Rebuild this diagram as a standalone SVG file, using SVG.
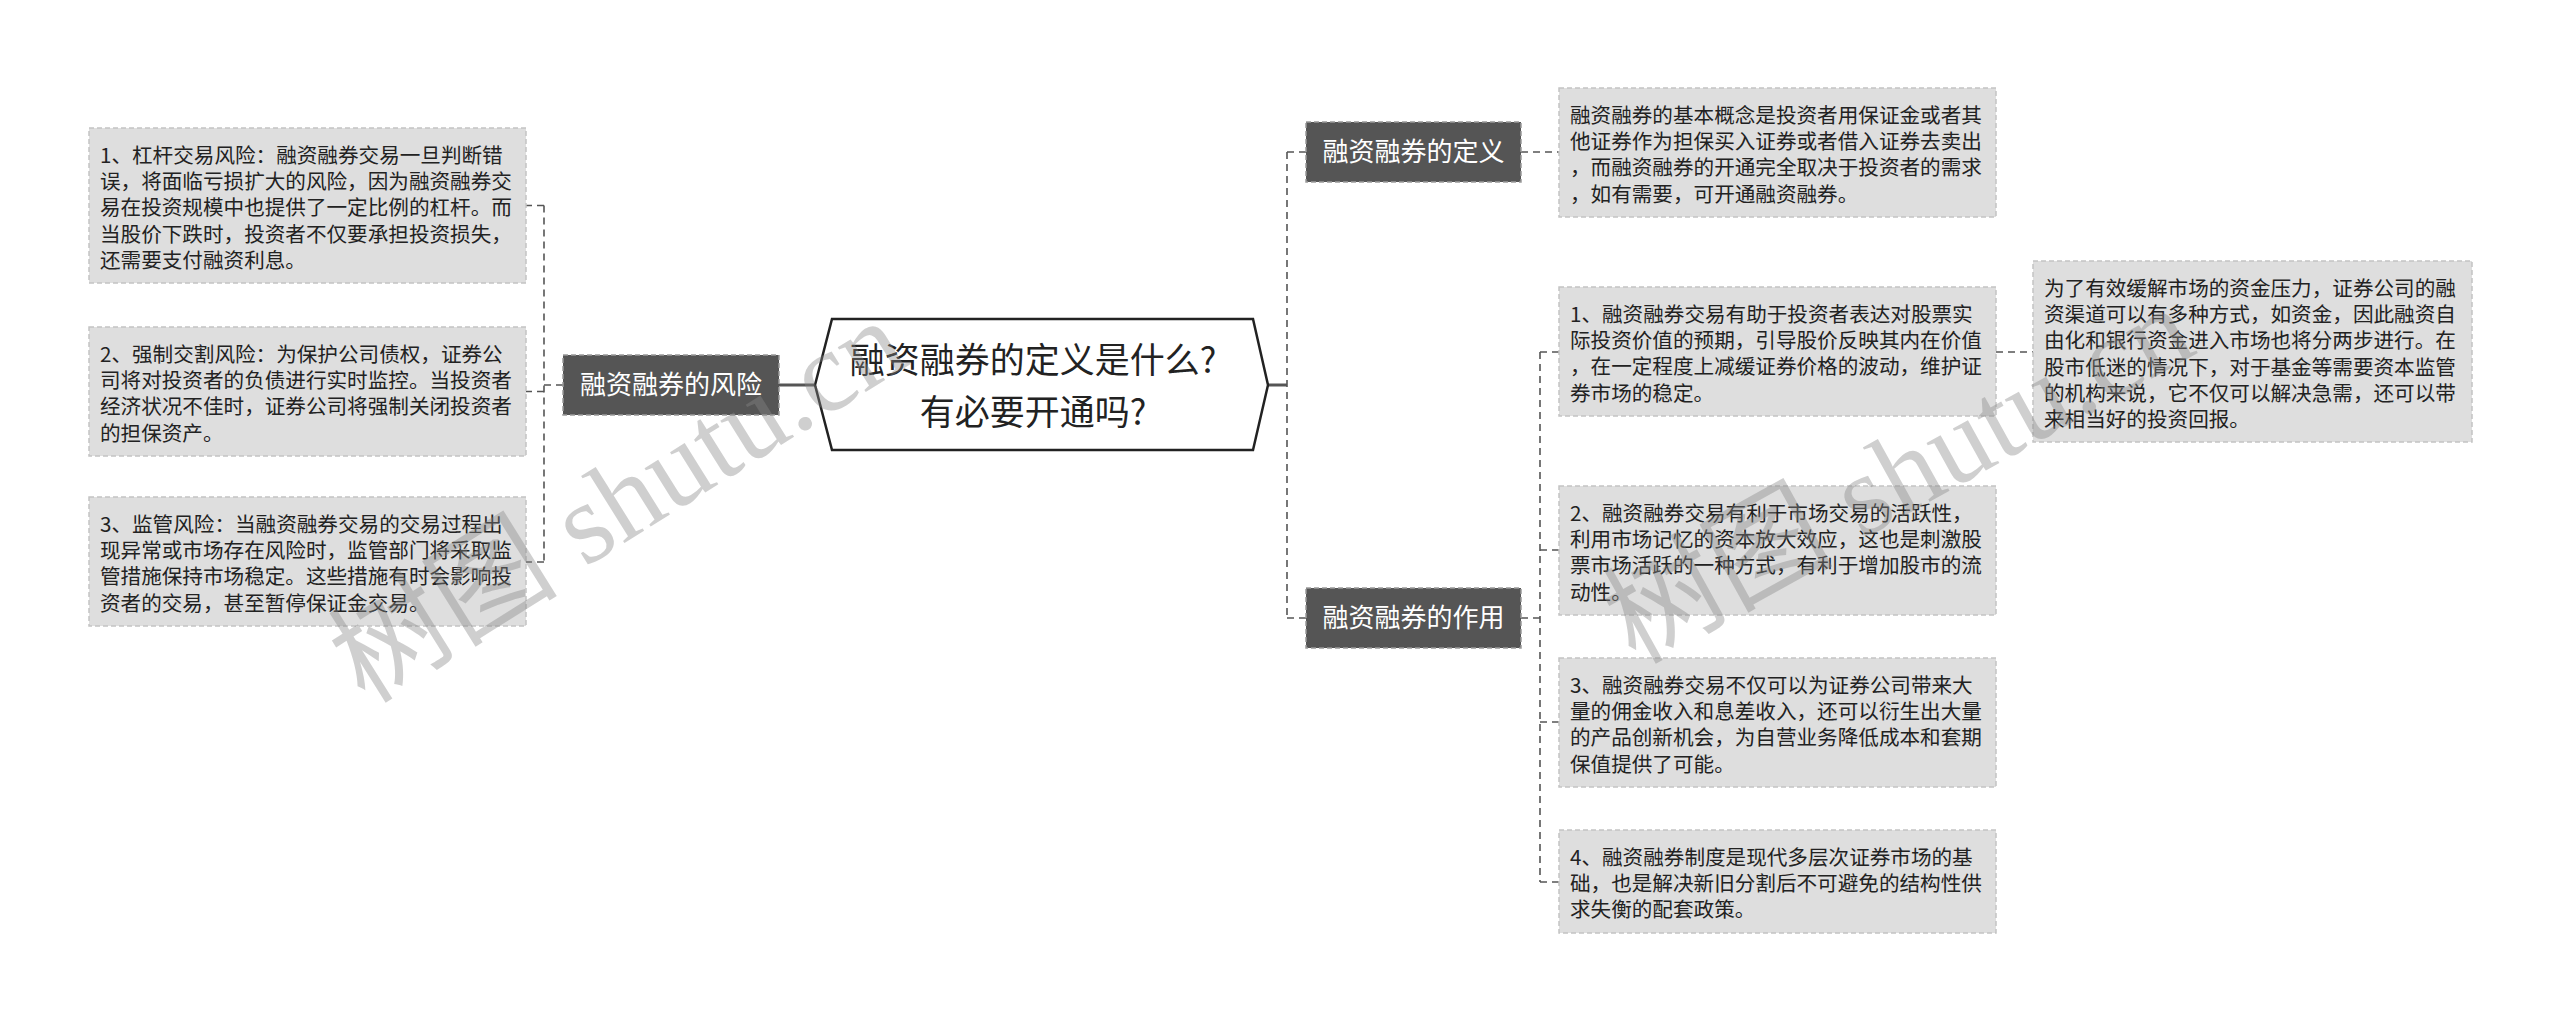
<svg xmlns="http://www.w3.org/2000/svg" width="2560" height="1021" viewBox="0 0 2560 1021">
<style>
.bg{fill:#ffffff}
.box{fill:#dedede;stroke:#c4c4c4;stroke-width:1.5;stroke-dasharray:5 3}
.bt{font-family:"Noto Sans CJK SC","Noto Sans",sans-serif;font-size:20.6px;fill:#222}
.dark{fill:#555555;stroke:#9a9a9a;stroke-width:1.5;stroke-dasharray:5 3}
.dt{font-family:"Noto Sans CJK SC","Noto Sans",sans-serif;font-size:26px;fill:#ffffff;text-anchor:middle}
.ct{font-family:"Noto Sans CJK SC","Noto Sans",sans-serif;font-size:35px;fill:#222;text-anchor:middle}
.dash{fill:none;stroke:#555;stroke-width:1.6;stroke-dasharray:7 5}
.solid{fill:none;stroke:#555;stroke-width:3}
.wm{font-size:115px;fill:#888;fill-opacity:0.4}
</style>
<rect class="bg" x="0" y="0" width="2560" height="1021"/>
<g id="connectors">
  <path class="solid" d="M779 385 H815"/>
  <path class="solid" d="M1268 385 H1287"/>
  <path class="dash" d="M563 385 H544"/>
  <path class="dash" d="M544 205.5 V562"/>
  <path class="dash" d="M544 205.5 H526"/>
  <path class="dash" d="M544 391.5 H526"/>
  <path class="dash" d="M544 562 H526"/>
  <path class="dash" d="M1287 152 V618"/>
  <path class="dash" d="M1287 152 H1306"/>
  <path class="dash" d="M1287 618 H1306"/>
  <path class="dash" d="M1521 152 H1559"/>
  <path class="dash" d="M1521 618 H1540"/>
  <path class="dash" d="M1540 352 V882"/>
  <path class="dash" d="M1540 352 H1559"/>
  <path class="dash" d="M1540 550 H1559"/>
  <path class="dash" d="M1540 722 H1559"/>
  <path class="dash" d="M1540 882 H1559"/>
  <path class="dash" d="M1996 352 H2033"/>
</g>
<g id="center">
  <polygon points="815,385 832,319 1253,319 1268,385 1253,450 832,450" fill="#ffffff" stroke="#222" stroke-width="2.5"/>
  <text class="ct" x="1033" y="373">融资融券的定义是什么?</text>
  <text class="ct" x="1033" y="425">有必要开通吗?</text>
</g>
<g id="risk">
  <rect class="dark" x="563" y="355" width="216" height="60"/>
  <text class="dt" x="671" y="394">融资融券的风险</text>
</g>
<g id="risk1">
  <rect class="box" x="89" y="128" width="437" height="155"/>
  <text class="bt" x="100" y="162.8"><tspan x="100">1、杠杆交易风险：融资融券交易一旦判断错</tspan><tspan x="100" dy="26.3">误，将面临亏损扩大的风险，因为融资融券交</tspan><tspan x="100" dy="26.3">易在投资规模中也提供了一定比例的杠杆。而</tspan><tspan x="100" dy="26.3">当股价下跌时，投资者不仅要承担投资损失，</tspan><tspan x="100" dy="26.3">还需要支付融资利息。</tspan></text>
</g>
<g id="risk2">
  <rect class="box" x="89" y="327" width="437" height="129"/>
  <text class="bt" x="100" y="361.8"><tspan x="100">2、强制交割风险：为保护公司债权，证券公</tspan><tspan x="100" dy="26.3">司将对投资者的负债进行实时监控。当投资者</tspan><tspan x="100" dy="26.3">经济状况不佳时，证券公司将强制关闭投资者</tspan><tspan x="100" dy="26.3">的担保资产。</tspan></text>
</g>
<g id="risk3">
  <rect class="box" x="89" y="497" width="437" height="129"/>
  <text class="bt" x="100" y="531.8"><tspan x="100">3、监管风险：当融资融券交易的交易过程出</tspan><tspan x="100" dy="26.3">现异常或市场存在风险时，监管部门将采取监</tspan><tspan x="100" dy="26.3">管措施保持市场稳定。这些措施有时会影响投</tspan><tspan x="100" dy="26.3">资者的交易，甚至暂停保证金交易。</tspan></text>
</g>
<g id="definition">
  <rect class="dark" x="1306" y="122" width="215" height="60"/>
  <text class="dt" x="1413.5" y="161">融资融券的定义</text>
</g>
<g id="definition-text">
  <rect class="box" x="1559" y="88" width="437" height="129"/>
  <text class="bt" x="1570" y="122.8"><tspan x="1570">融资融券的基本概念是投资者用保证金或者其</tspan><tspan x="1570" dy="26.3">他证券作为担保买入证券或者借入证券去卖出</tspan><tspan x="1570" dy="26.3">，而融资融券的开通完全取决于投资者的需求</tspan><tspan x="1570" dy="26.3">，如有需要，可开通融资融券。</tspan></text>
</g>
<g id="function">
  <rect class="dark" x="1306" y="588" width="215" height="60"/>
  <text class="dt" x="1413.5" y="627">融资融券的作用</text>
</g>
<g id="function1">
  <rect class="box" x="1559" y="287" width="437" height="129"/>
  <text class="bt" x="1570" y="321.8"><tspan x="1570">1、融资融券交易有助于投资者表达对股票实</tspan><tspan x="1570" dy="26.3">际投资价值的预期，引导股价反映其内在价值</tspan><tspan x="1570" dy="26.3">，在一定程度上减缓证券价格的波动，维护证</tspan><tspan x="1570" dy="26.3">券市场的稳定。</tspan></text>
</g>
<g id="function1-detail">
  <rect class="box" x="2033" y="261" width="439" height="181"/>
  <text class="bt" x="2044" y="295.8"><tspan x="2044">为了有效缓解市场的资金压力，证券公司的融</tspan><tspan x="2044" dy="26.3">资渠道可以有多种方式，如资金，因此融资自</tspan><tspan x="2044" dy="26.3">由化和银行资金进入市场也将分两步进行。在</tspan><tspan x="2044" dy="26.3">股市低迷的情况下，对于基金等需要资本监管</tspan><tspan x="2044" dy="26.3">的机构来说，它不仅可以解决急需，还可以带</tspan><tspan x="2044" dy="26.3">来相当好的投资回报。</tspan></text>
</g>
<g id="function2">
  <rect class="box" x="1559" y="486" width="437" height="129"/>
  <text class="bt" x="1570" y="520.8"><tspan x="1570">2、融资融券交易有利于市场交易的活跃性，</tspan><tspan x="1570" dy="26.3">利用市场记忆的资本放大效应，这也是刺激股</tspan><tspan x="1570" dy="26.3">票市场活跃的一种方式，有利于增加股市的流</tspan><tspan x="1570" dy="26.3">动性。</tspan></text>
</g>
<g id="function3">
  <rect class="box" x="1559" y="658" width="437" height="129"/>
  <text class="bt" x="1570" y="692.8"><tspan x="1570">3、融资融券交易不仅可以为证券公司带来大</tspan><tspan x="1570" dy="26.3">量的佣金收入和息差收入，还可以衍生出大量</tspan><tspan x="1570" dy="26.3">的产品创新机会，为自营业务降低成本和套期</tspan><tspan x="1570" dy="26.3">保值提供了可能。</tspan></text>
</g>
<g id="function4">
  <rect class="box" x="1559" y="830" width="437" height="103"/>
  <text class="bt" x="1570" y="864.8"><tspan x="1570">4、融资融券制度是现代多层次证券市场的基</tspan><tspan x="1570" dy="26.3">础，也是解决新旧分割后不可避免的结构性供</tspan><tspan x="1570" dy="26.3">求失衡的配套政策。</tspan></text>
</g>
<g id="watermarks">
  <text class="wm" transform="translate(365 705) rotate(-32)"><tspan font-family="Noto Sans CJK SC,sans-serif">树图</tspan><tspan font-family="Liberation Serif,serif"> shutu.cn</tspan></text>
  <text class="wm" transform="translate(1635 665) rotate(-29)"><tspan font-family="Noto Sans CJK SC,sans-serif">树图</tspan><tspan font-family="Liberation Serif,serif"> shutu.cn</tspan></text>
</g>
</svg>
